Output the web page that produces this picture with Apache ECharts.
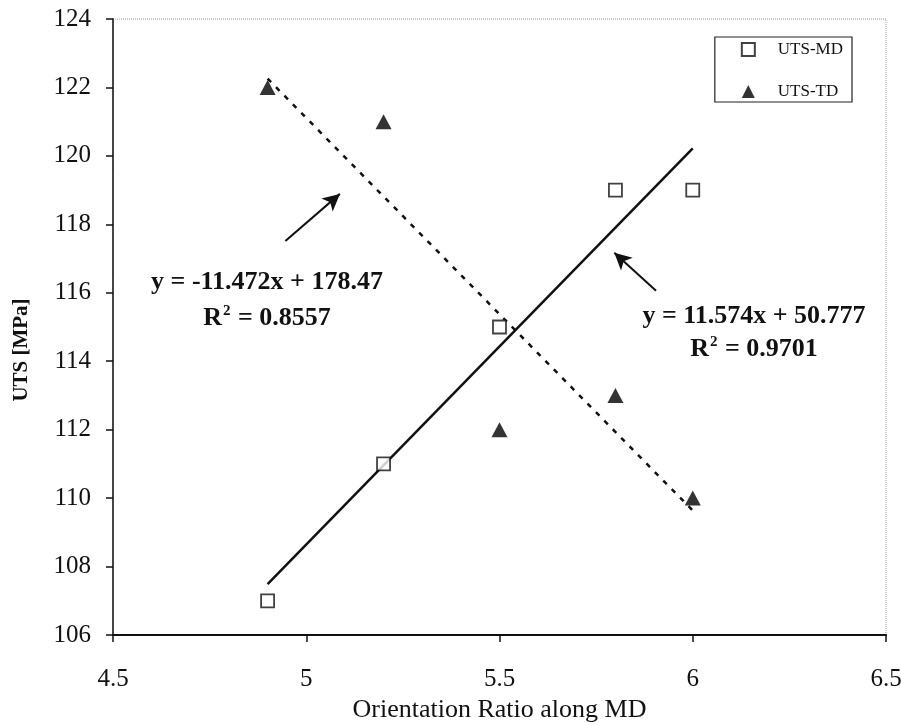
<!DOCTYPE html>
<html>
<head>
<meta charset="utf-8">
<script src="https://cdn.jsdelivr.net/npm/echarts@6/dist/echarts.min.js"></script>
<style>
  html, body { margin: 0; padding: 0; background: #fff; }
  #chart { width: 901px; height: 725px; }
</style>
</head>
<body>
<div id="chart"></div>
<script>
// Orientation ratio along MD
const orientation = [4.9, 5.2, 5.5, 5.8, 6.0];
// Ultimate tensile strength, MPa
const utsMD = [107, 111, 115, 119, 119];
const utsTD = [122, 121, 112, 113, 110];

// Linear trendline coefficients (slope, intercept) and R²
const fitMD = { slope: 11.574, intercept: 50.777, r2: '0.9701' };
const fitTD = { slope: -11.472, intercept: 178.47, r2: '0.8557' };

// Arrow annotations in data space: [tail, head]
const arrowTD = [[4.946, 117.51], [5.087, 118.89]];
const arrowMD = [[5.905, 116.06], [5.797, 117.17]];

const xTicks = [4.5, 5, 5.5, 6, 6.5];
const yTicks = [106, 108, 110, 112, 114, 116, 118, 120, 122, 124];

const FONT = '"Liberation Serif", "Times New Roman", serif';
const INK = '#111';

function trend(fit) {
  const x0 = orientation[0];
  const x1 = orientation[orientation.length - 1];
  return [[x0, fit.slope * x0 + fit.intercept], [x1, fit.slope * x1 + fit.intercept]];
}
function eqText(fit) {
  const sign = fit.intercept >= 0 ? '+' : '-';
  return 'y = ' + fit.slope + 'x ' + sign + ' ' + Math.abs(fit.intercept);
}
function pairs(ys) { return orientation.map((x, i) => [x, ys[i]]); }

const chart = echarts.init(document.getElementById('chart'), null, { renderer: 'canvas' });

const EQ_SIZE = 26;
function eqGraphic(fit, cx, cy) {
  return {
    type: 'text', x: cx, y: cy, z: 10,
    style: {
      text: eqText(fit), fontFamily: FONT, fontWeight: 'bold', fontSize: EQ_SIZE,
      fill: INK, textAlign: 'center', textVerticalAlign: 'middle'
    }
  };
}
function r2Graphic(fit, cx, cy) {
  return {
    type: 'text', x: cx, y: cy, z: 10,
    style: {
      text: '{b|R}{sup|2}{b| = ' + fit.r2 + '}',
      textAlign: 'center', textVerticalAlign: 'middle',
      rich: {
        b: { fontFamily: FONT, fontWeight: 'bold', fontSize: EQ_SIZE, fill: INK, color: INK },
        sup: { fontFamily: FONT, fontWeight: 'bold', fontSize: 15, fill: INK, color: INK, padding: [0, 1, 14, 1] }
      }
    }
  };
}

chart.setOption({
  animation: false,
  backgroundColor: '#fff',
  grid: {
    left: 113, right: 15, top: 19, bottom: 90,
    outerBoundsMode: 'none',
    containLabel: false,
    show: true, borderColor: '#9a9a9a', borderWidth: 1, borderType: 'dotted',
    backgroundColor: 'transparent'
  },
  legend: {
    data: ['UTS-MD', 'UTS-TD'],
    orient: 'vertical',
    right: 49, top: 37,
    padding: [4, 9, 2, 26],
    itemGap: 25,
    itemWidth: 13, itemHeight: 13,
    borderColor: '#222', borderWidth: 1.2,
    textStyle: { fontFamily: FONT, fontSize: 17, color: INK, padding: [0, 0, 0, 18] }
  },
  xAxis: {
    type: 'value', min: 4.5, max: 6.5, interval: 0.5,
    name: 'Orientation Ratio along MD', nameLocation: 'middle', nameGap: 62,
    nameTextStyle: { fontFamily: FONT, fontSize: 26, color: INK },
    axisLine: { show: true, onZero: false, lineStyle: { color: INK, width: 2 } },
    axisTick: { show: true, inside: false, length: 7, lineStyle: { color: INK, width: 1.5 } },
    axisLabel: {
      fontFamily: FONT, fontSize: 25, color: INK, margin: 32,
      formatter: v => xTicks.includes(v) ? String(v) : ''
    },
    splitLine: { show: false }
  },
  yAxis: {
    type: 'value', min: 106, max: 124, interval: 2,
    axisLine: { show: true, onZero: false, lineStyle: { color: INK, width: 1.5 } },
    axisTick: { show: true, inside: false, length: 7, lineStyle: { color: INK, width: 1.5 } },
    axisLabel: {
      fontFamily: FONT, fontSize: 25, color: INK, margin: 22,
      formatter: v => yTicks.includes(v) ? String(v) : ''
    },
    splitLine: { show: false }
  },
  series: [
    {
      name: 'MD trend', type: 'line', data: trend(fitMD), symbol: 'none',
      lineStyle: { color: INK, width: 2.5 }, z: 2, silent: true
    },
    {
      name: 'TD trend', type: 'line', data: trend(fitTD), symbol: 'none',
      lineStyle: { color: INK, width: 2.5, type: [5, 7] }, z: 2, silent: true
    },
    {
      name: 'UTS-MD', type: 'scatter', data: pairs(utsMD),
      symbol: 'rect', symbolSize: 13,
      itemStyle: { color: '#fff', borderColor: INK, borderWidth: 1.8 }, z: 4
    },
    {
      name: 'UTS-TD', type: 'scatter', data: pairs(utsTD),
      symbol: 'triangle', symbolSize: [16, 15],
      itemStyle: { color: '#000' }, z: 4
    },
    {
      name: 'arrows', type: 'line', data: [], silent: true,
      markLine: {
        silent: true,
        symbol: ['none', 'arrow'], symbolSize: [13, 17],
        label: { show: false },
        lineStyle: { color: INK, width: 2, type: 'solid' },
        emphasis: { disabled: true },
        data: [
          [{ coord: arrowTD[0] }, { coord: arrowTD[1] }],
          [{ coord: arrowMD[0] }, { coord: arrowMD[1] }]
        ]
      }
    }
  ],
  graphic: [
    {
      type: 'text', x: 22, y: 350, rotation: Math.PI / 2,
      style: {
        text: 'UTS [MPa]', fontFamily: FONT, fontWeight: 'bold', fontSize: 21,
        fill: INK, textAlign: 'center', textVerticalAlign: 'middle'
      }
    },
    eqGraphic(fitTD, 267, 282),
    r2Graphic(fitTD, 267, 318),
    eqGraphic(fitMD, 754, 316),
    r2Graphic(fitMD, 754, 349)
  ]
});
</script>
</body>
</html>
